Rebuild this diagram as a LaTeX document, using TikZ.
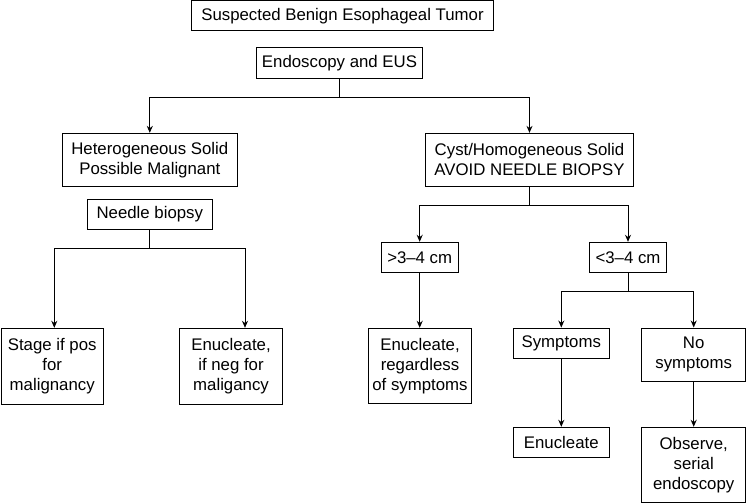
\documentclass[tikz,border=0pt]{standalone}
\usepackage{fontspec}
\setmainfont{Liberation Sans}
\usetikzlibrary{arrows.meta}
\begin{document}
\begin{tikzpicture}[x=1pt,y=-1pt,
  box/.style={draw, line width=1pt, align=center, inner sep=0pt,
    font=\fontsize{16.8}{20}\selectfont},
  conn/.style={line width=1pt},
  arr/.style={line width=1pt, -{Stealth[length=7pt,width=6pt]}}]
\useasboundingbox (0,0) rectangle (746,503);
% nodes
\node[box, minimum width=301.6pt, minimum height=30pt] (top) at (342.5,16) {Suspected Benign Esophageal Tumor};
\node[box, minimum width=165.6pt, minimum height=30pt] (endo) at (339.5,63) {Endoscopy and EUS};
\node[box, minimum width=175pt, minimum height=52.7pt] (het) at (149.8,159.7) {Heterogeneous Solid\\Possible Malignant};
\node[box, minimum width=125pt, minimum height=29.7pt] (needle) at (149.8,214.2) {Needle biopsy};
\node[box, minimum width=207.6pt, minimum height=52.7pt] (cyst) at (529.5,159.7) {Cyst/Homogeneous Solid\\AVOID NEEDLE BIOPSY};
\node[box, minimum width=77.3pt, minimum height=30pt] (gt) at (419.7,257.3) {>3–4 cm};
\node[box, minimum width=77.4pt, minimum height=30pt] (lt) at (628,257.3) {<3–4 cm};
\node[box, minimum width=102.3pt, minimum height=76pt] (stage) at (52.2,366.3) {Stage if pos\\for\\malignancy};
\node[box, minimum width=103.4pt, minimum height=76pt] (enneg) at (231,366.3) {Enucleate,\\if neg for\\maligancy};
\node[box, minimum width=103.4pt, minimum height=75pt] (enreg) at (420,365.8) {Enucleate,\\regardless\\of symptoms};
\node[box, minimum width=96pt, minimum height=30.3pt] (sym) at (561.3,343.2) {Symptoms};
\node[box, minimum width=104pt, minimum height=53pt] (nosym) at (693.7,354.5) {No\\symptoms};
\node[box, minimum width=96pt, minimum height=30pt] (enuc) at (561.3,442.3) {Enucleate};
\node[box, minimum width=104pt, minimum height=75pt] (obs) at (693.7,464.8) {Observe,\\serial\\endoscopy};
% junction coordinates
\coordinate (j1) at (339.5,97.5);
\coordinate (j2) at (149.8,248.3);
\coordinate (j3) at (529.5,205);
\coordinate (j4) at (628,291);
% connectors
\draw[conn] (endo.south) -- (j1);
\draw[arr] (j1) -| (het.north);
\draw[arr] (j1) -| (cyst.north);
\draw[conn] (needle.south) -- (j2);
\draw[arr] (j2) -| (stage.north -| 54.3,0);
\draw[arr] (j2) -| (enneg.north -| 245,0);
\draw[conn] (cyst.south) -- (j3);
\draw[arr] (j3) -| (gt.north);
\draw[arr] (j3) -| (lt.north);
\draw[arr] (gt.south) -- (enreg.north -| gt.south);
\draw[conn] (lt.south) -- (j4);
\draw[arr] (j4) -| (sym.north);
\draw[arr] (j4) -| (nosym.north);
\draw[arr] (sym.south) -- (enuc.north);
\draw[arr] (nosym.south) -- (obs.north);
\end{tikzpicture}
\end{document}
